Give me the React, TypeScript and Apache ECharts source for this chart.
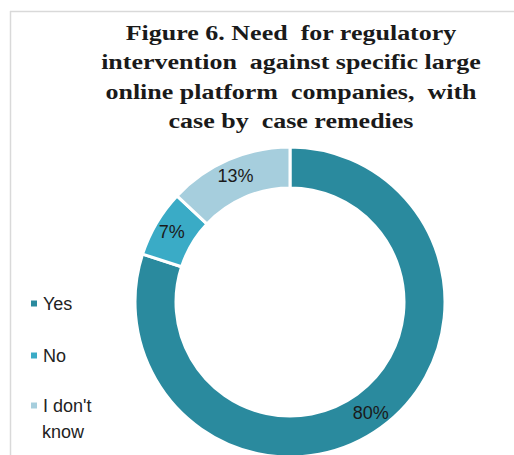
import React, { useEffect, useRef } from "react";
import * as echarts from "echarts";

const categories = ["Yes", "No", "I don't know"];
const values = [80, 7, 13];
const colors = ["#2a8a9e", "#3aabc6", "#a6cedd"];
const titleLines = [
  "Figure 6. Need  for regulatory",
  "intervention  against specific large",
  "online platform  companies,  with",
  "case by  case remedies",
];

export default function App() {
  const ref = useRef<HTMLDivElement>(null);
  useEffect(() => {
    if (!ref.current) return;
    const chart = echarts.init(ref.current, null, { renderer: "svg" });
    const legendTops = [294.5, 346.5, 396.5];
    chart.setOption({
      animation: false,
      backgroundColor: "#ffffff",
      color: colors,
      legend: categories.map((c, i) => ({
        orient: "vertical",
        left: 29,
        top: legendTops[i],
        padding: 0,
        icon: "rect",
        itemWidth: 8,
        itemHeight: 8,
        selectedMode: false,
        data: [c],
        formatter: (n: string) => (n === "I don't know" ? "I don't" : n),
        textStyle: {
          fontFamily: "Liberation Sans",
          fontSize: 18,
          color: "#222",
          padding: [0, 0, 0, 0],
        },
      })),
      graphic: [
        {
          type: "line",
          shape: { x1: 10.5, y1: 11, x2: 10.5, y2: 455 },
          style: { stroke: "#d9d9d9", lineWidth: 1.5 },
          silent: true,
        },
        {
          type: "line",
          shape: { x1: 10, y1: 11.5, x2: 514, y2: 11.5 },
          style: { stroke: "#d9d9d9", lineWidth: 1.5 },
          silent: true,
        },
        {
          type: "text",
          x: 291,
          y: 18,
          scaleX: 1.3,
          style: {
            text: titleLines.join("\n"),
            align: "center",
            verticalAlign: "top",
            fontFamily: "Liberation Serif",
            fontWeight: "bold",
            fontSize: 20,
            lineHeight: 29.5,
            fill: "#1a1a1a",
          },
        },
        {
          type: "text",
          x: 42,
          y: 432,
          style: {
            text: "know",
            verticalAlign: "middle",
            fontFamily: "Liberation Sans",
            fontSize: 18,
            fill: "#222",
          },
        },
      ],
      series: [
        {
          type: "pie",
          center: [290, 302],
          radius: [114, 155],
          startAngle: 90,
          clockwise: true,
          avoidLabelOverlap: false,
          itemStyle: { borderColor: "#ffffff", borderWidth: 3 },
          label: {
            show: true,
            position: "inside",
            formatter: "{c}%",
            fontFamily: "Liberation Sans",
            fontSize: 18,
            color: "#1a1a1a",
          },
          labelLine: { show: false },
          emphasis: { disabled: true },
          data: categories.map((c, i) => ({ name: c, value: values[i] })),
        },
      ],
    });
    return () => chart.dispose();
  }, []);
  return (
    <div
      ref={ref}
      style={{ position: "absolute", left: 0, top: 0, width: 514, height: 455 }}
    />
  );
}
